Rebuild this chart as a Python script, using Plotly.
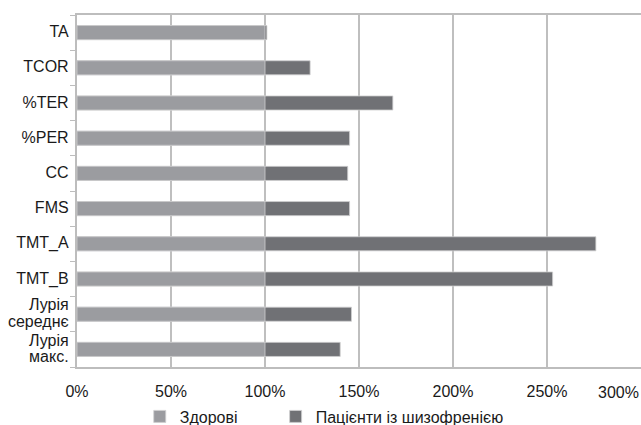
import plotly.graph_objects as go

# Measures (top to bottom) and relative scores, healthy group = 100%
categories = ["TA", "TCOR", "%TER", "%PER", "CC", "FMS", "TMT_A", "TMT_B",
              "Лурія<br>середнє", "Лурія<br>макс."]
healthy = [100, 100, 100, 100, 100, 100, 100, 100, 100, 100]
patients = [101, 124, 168, 145, 144, 145, 276, 253, 146, 140]
x_ticks = [0, 50, 100, 150, 200, 250, 300]
x_tick_labels = ["0%", "50%", "100%", "150%", "200%", "250%", "300%"]

FONT = "Liberation Sans Narrow, Arial Narrow, sans-serif"
TEXT = "#1a1a1a"
LIGHT = "#9b9ca0"
DARK = "#707175"
EDGE = "#cfcfd0"
GRID = "#bdbdbd"
GRID_SOFT = "rgba(170,170,170,0.75)"

fig = go.Figure()
# patients drawn first as full-length bars, healthy drawn on top
fig.add_trace(go.Bar(y=categories, x=patients, orientation="h",
                     name="Пацієнти із шизофренією", marker_color=DARK,
                     marker_line=dict(width=0.8, color=EDGE),
                     legend="legend2"))
fig.add_trace(go.Bar(y=categories, x=healthy, orientation="h",
                     name="Здорові", marker_color=LIGHT,
                     marker_line=dict(width=0.8, color=EDGE),
                     legend="legend"))

legend_style = dict(orientation="h", xanchor="left", xref="container",
                    yref="container", y=0.02, yanchor="middle",
                    font=dict(size=16, color=TEXT),
                    bgcolor="rgba(0,0,0,0)", itemwidth=30)
fig.update_layout(
    width=641, height=425,
    margin=dict(l=77, r=0, t=15, b=58),
    barmode="overlay", bargap=0.6,
    plot_bgcolor="white", paper_bgcolor="white",
    font=dict(family=FONT, size=16, color=TEXT),
    legend=dict(x=0.218, **legend_style),
    legend2=dict(x=0.43, **legend_style),
    showlegend=True,
)
# grid drawn above the bars with a semi-transparent colour
fig.update_xaxes(range=[0, 300], tickvals=x_ticks[:-1],
                 ticktext=x_tick_labels[:-1], layer="above traces",
                 showgrid=True, gridcolor=GRID_SOFT, gridwidth=1.5,
                 showline=True, linecolor=GRID, linewidth=1.5, mirror=True,
                 zeroline=False, ticks="", ticklabelstandoff=9,
                 tickfont=dict(size=16, color=TEXT))
fig.add_annotation(x=x_ticks[-1], y=0, xref="x", yref="paper",
                   text=x_tick_labels[-1], showarrow=False,
                   xanchor="right", yanchor="top", yshift=-15,
                   font=dict(family=FONT, size=16, color=TEXT))
# small base size keeps the two-line labels tightly spaced
fig.update_yaxes(autorange="reversed", type="category",
                 tickvals=categories,
                 ticktext=[f'<span style="font-size:16px">{c}</span>'
                           for c in categories],
                 showline=True, linecolor=GRID, linewidth=1.5,
                 ticks="outside", tickson="boundaries", ticklen=5,
                 tickcolor=GRID, showgrid=False, ticklabelstandoff=4,
                 tickfont=dict(size=13, color=TEXT))

fig.write_html("out.html")
